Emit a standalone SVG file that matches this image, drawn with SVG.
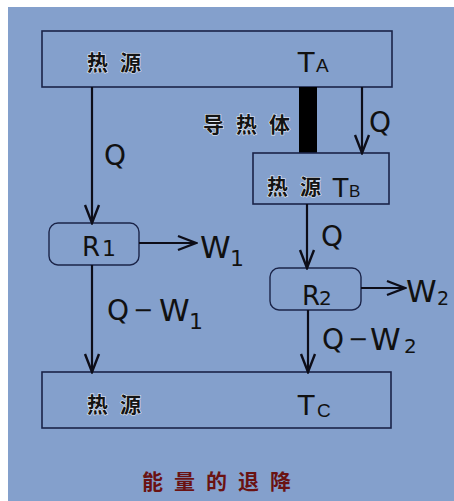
<svg xmlns="http://www.w3.org/2000/svg" width="454" height="501" viewBox="0 0 454 501">
  <style>
    .box { fill: none; stroke: #1b2448; stroke-width: 1.6; }
    .rbox { fill: none; stroke: #1b2448; stroke-width: 1.4; }
    .wire { stroke: #0d0d18; stroke-width: 2.2; fill: none; }
    .cjk { font-family: "Noto Sans CJK SC", sans-serif; font-weight: bold; font-size: 21px; fill: #141414; stroke: #e8eef8; stroke-width: 1.2; paint-order: stroke; letter-spacing: 12px; }
    .title { font-family: "Noto Sans CJK SC", sans-serif; font-weight: bold; font-size: 21px; fill: #6a1212; letter-spacing: 11px; }
    .sym { font-family: "DejaVu Sans", sans-serif; fill: #111111; }
    .big { font-size: 28px; }
    .w { font-size: 31px; }
    .idx { font-size: 22px; }
    .tt { font-family: "Liberation Sans", sans-serif; font-size: 30px; fill: #111111; }
    .sub { font-family: "Liberation Sans", sans-serif; font-size: 19px; fill: #111111; }
  </style>
  <defs>
    <marker id="chev" viewBox="-20 -10 22 20" markerWidth="22" markerHeight="20" refX="0" refY="0" orient="auto" markerUnits="userSpaceOnUse">
      <path d="M-18,-7 L0,0 L-18,7" fill="none" stroke="#0d0d18" stroke-width="2.4"/>
    </marker>
  </defs>

  <rect x="0" y="0" width="454" height="501" fill="#ffffff"/>
  <rect x="8" y="7" width="446" height="494" fill="#84a0cc"/>

  <!-- hot reservoir TA -->
  <g id="source-a">
    <rect class="box" x="42" y="31" width="350" height="56"/>
    <text class="cjk" x="87" y="70">热源</text>
    <text class="tt" x="297" y="72">T</text>
    <text class="sub" x="316" y="72">A</text>
  </g>

  <!-- conductor bar -->
  <g id="conductor">
    <rect x="299" y="87" width="18" height="66" fill="#000000"/>
    <text class="cjk" x="203" y="132">导热体</text>
  </g>

  <!-- intermediate reservoir TB -->
  <g id="source-b">
    <rect class="box" x="253" y="153" width="136" height="51"/>
    <text class="cjk" x="267" y="194">热源</text>
    <text class="tt" x="332" y="197" style="font-size:28px">T</text>
    <text class="sub" x="349" y="197" style="font-size:17px">B</text>
  </g>

  <!-- engine R1 -->
  <g id="engine-r1">
    <rect class="rbox" x="49" y="223" width="90" height="42" rx="9"/>
    <text class="sym" x="82" y="256" style="font-size:26px">R</text>
    <text class="sym" x="102" y="256" style="font-size:22px">1</text>
  </g>

  <!-- engine R2 -->
  <g id="engine-r2">
    <rect class="rbox" x="270" y="268" width="91" height="42" rx="9"/>
    <text class="sym" x="302" y="305" style="font-size:26px">R</text>
    <text class="sym" x="319" y="305" style="font-size:20px">2</text>
  </g>

  <!-- cold reservoir TC -->
  <g id="source-c">
    <rect class="box" x="42" y="372" width="349" height="56"/>
    <text class="cjk" x="87" y="412">热源</text>
    <text class="tt" x="297" y="415">T</text>
    <text class="sub" x="317" y="417">C</text>
  </g>

  <!-- heat and work flows -->
  <g id="connectors">
    <line class="wire" x1="92" y1="87" x2="92" y2="223" marker-end="url(#chev)"/>
    <line class="wire" x1="362" y1="87" x2="362" y2="153" marker-end="url(#chev)"/>
    <line class="wire" x1="307" y1="204" x2="307" y2="268" marker-end="url(#chev)"/>
    <line class="wire" x1="92" y1="265" x2="92" y2="372" marker-end="url(#chev)"/>
    <line class="wire" x1="308" y1="310" x2="308" y2="372" marker-end="url(#chev)"/>
    <line class="wire" x1="139" y1="243" x2="196" y2="243" marker-end="url(#chev)"/>
    <line class="wire" x1="361" y1="288" x2="405" y2="288" marker-end="url(#chev)"/>
  </g>

  <!-- flow labels -->
  <g id="labels">
    <text class="sym big" x="104" y="165">Q</text>
    <text class="sym big" x="369" y="132">Q</text>
    <text class="sym big" x="321" y="246">Q</text>

    <text class="sym w" x="200" y="258">W</text>
    <text class="sym idx" x="230" y="266">1</text>

    <text class="sym big" x="107" y="320">Q</text>
    <text class="sym" x="133" y="318" style="font-size:24px">−</text>
    <text class="sym w" x="159" y="321">W</text>
    <text class="sym idx" x="189" y="329">1</text>

    <text class="sym w" x="406" y="302">W</text>
    <text class="sym" x="437" y="305" style="font-size:19px">2</text>

    <text class="sym big" x="322" y="349">Q</text>
    <text class="sym" x="348" y="347" style="font-size:24px">−</text>
    <text class="sym w" x="370" y="350">W</text>
    <text class="sym" x="404" y="353" style="font-size:20px">2</text>
  </g>

  <text id="caption" class="title" x="142" y="489">能量的退降</text>
</svg>
